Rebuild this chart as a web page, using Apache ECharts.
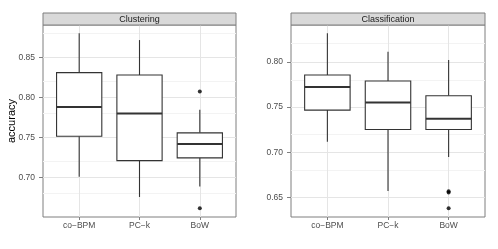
<!DOCTYPE html>
<html>
<head>
<meta charset="utf-8">
<script src="https://cdn.jsdelivr.net/npm/echarts@6.0.0/dist/echarts.min.js"></script>
<style>html,body{margin:0;padding:0;background:#fff}#c{width:498px;height:249px}</style>
</head>
<body>
<div id="c"></div>
<script>
const categories = ['co\u2212BPM', 'PC\u2212k', 'BoW'];
const panelTitles = ['Clustering', 'Classification'];
// [min, Q1, median, Q3, max]
const clustering = [
  [0.701, 0.7516, 0.788, 0.831, 0.880],
  [0.6758, 0.7212, 0.780, 0.828, 0.8716],
  [0.689, 0.7246, 0.742, 0.7558, 0.7846]
];
const clusteringOutliers = [[2, 0.8075], [2, 0.6616]];
const classification = [
  [0.7115, 0.7466, 0.772, 0.7853, 0.8314],
  [0.6573, 0.7252, 0.7551, 0.7787, 0.811],
  [0.6949, 0.7252, 0.737, 0.7624, 0.8019]
];
const classificationOutliers = [[2, 0.657], [2, 0.6555], [2, 0.6382]];
const clusteringTicks = [0.70, 0.75, 0.80, 0.85];
const clusteringMinor = [0.675, 0.725, 0.775, 0.825, 0.875];
const classificationTicks = [0.65, 0.70, 0.75, 0.80];
const classificationMinor = [0.675, 0.725, 0.775, 0.825];
const yRanges = [[0.6508, 0.8904], [0.6285, 0.8406]];

const FONT = 'Liberation Sans, Arial, Helvetica, sans-serif';
const panels = [
  {left: 43, top: 25, width: 193, height: 192},
  {left: 291, top: 25, width: 194, height: 192}
];

function renderBox(params, api) {
  const x = api.value(0);
  const pMin = api.coord([x, api.value(1)]);
  const pQ1 = api.coord([x, api.value(2)]);
  const pMed = api.coord([x, api.value(3)]);
  const pQ3 = api.coord([x, api.value(4)]);
  const pMax = api.coord([x, api.value(5)]);
  const hw = api.size([0.75, 0])[0] / 2;
  const st = {stroke: '#333333', lineWidth: 1.1, fill: null};
  return {type: 'group', children: [
    {type: 'line', shape: {x1: pMin[0], y1: pMin[1], x2: pQ1[0], y2: pQ1[1]}, style: st},
    {type: 'line', shape: {x1: pQ3[0], y1: pQ3[1], x2: pMax[0], y2: pMax[1]}, style: st},
    {type: 'rect', shape: {x: pQ3[0] - hw, y: pQ3[1], width: 2 * hw, height: pQ1[1] - pQ3[1]},
      style: {fill: '#ffffff', stroke: '#333333', lineWidth: 1.1}},
    {type: 'line', shape: {x1: pMed[0] - hw, y1: pMed[1], x2: pMed[0] + hw, y2: pMed[1]},
      style: {stroke: '#333333', lineWidth: 2}}
  ]};
}

function gridLines(major, minor) {
  const d = [];
  minor.forEach(v => d.push({yAxis: v, lineStyle: {color: '#f3f3f3', width: 1, type: 'solid'}}));
  major.forEach(v => d.push({yAxis: v, lineStyle: {color: '#e5e5e5', width: 1, type: 'solid'}}));
  [1, 2, 3].forEach(v => d.push({xAxis: v, lineStyle: {color: '#e5e5e5', width: 1, type: 'solid'}}));
  return d;
}

const chart = echarts.init(document.getElementById('c'), null, {renderer: 'canvas'});
const datasets = [clustering, classification];
const outliers = [clusteringOutliers, classificationOutliers];
const ticks = [clusteringTicks, classificationTicks];
const minors = [clusteringMinor, classificationMinor];

const option = {
  animation: false,
  backgroundColor: '#ffffff',
  textStyle: {fontFamily: FONT},
  grid: panels.map(p => Object.assign({show: true, backgroundColor: '#ffffff', borderColor: '#7f7f7f', borderWidth: 1, containLabel: false, outerBoundsMode: 'none'}, p)),
  xAxis: panels.map((p, i) => ({
    type: 'value', gridIndex: i, min: 0.4, max: 3.6,
    axisLine: {show: false},
    splitLine: {show: false},
    axisTick: {show: true, customValues: [1, 2, 3], length: 3, lineStyle: {color: '#7f7f7f'}},
    axisLabel: {customValues: [1, 2, 3], formatter: v => categories[Math.round(v) - 1], fontSize: 8.5, color: '#4d4d4d', margin: 4, fontFamily: FONT}
  })),
  yAxis: panels.map((p, i) => ({
    type: 'value', gridIndex: i, min: yRanges[i][0], max: yRanges[i][1],
    axisLine: {show: false},
    splitLine: {show: false},
    axisTick: {show: true, customValues: ticks[i], length: 4, lineStyle: {color: '#7f7f7f'}},
    axisLabel: {customValues: ticks[i], formatter: v => v.toFixed(2), fontSize: 8.5, color: '#4d4d4d', margin: 8, fontFamily: FONT},
    name: i === 0 ? 'accuracy' : '',
    nameLocation: 'middle', nameRotate: 90, nameGap: 26, nameMoveOverlap: false,
    nameTextStyle: {fontSize: 11, color: '#000000', fontFamily: FONT}
  })),
  series: [],
  graphic: []
};

datasets.forEach((ds, i) => {
  option.series.push({
    type: 'custom', xAxisIndex: i, yAxisIndex: i, z: 2,
    renderItem: renderBox,
    encode: {x: 0, y: [1, 2, 3, 4, 5]},
    data: ds.map((r, k) => [k + 1].concat(r)),
    markLine: {silent: true, z: 1, symbol: ['none', 'none'], label: {show: false}, animation: false, data: gridLines(ticks[i], minors[i])}
  });
  option.series.push({
    type: 'scatter', xAxisIndex: i, yAxisIndex: i, z: 3,
    symbol: 'circle', symbolSize: 4,
    itemStyle: {color: '#000000'},
    data: outliers[i].map(o => [o[0] + 1, o[1]])
  });
  const p = panels[i];
  option.graphic.push({
    type: 'rect', shape: {x: p.left, y: 13, width: p.width, height: 12},
    style: {fill: '#d9d9d9', stroke: '#7f7f7f', lineWidth: 1}, z: 10
  });
  option.graphic.push({
    type: 'text', x: p.left + p.width / 2, y: 19.5,
    style: {text: panelTitles[i], fill: '#1a1a1a', font: '9px ' + FONT, textAlign: 'center', textVerticalAlign: 'middle'}, z: 11
  });
});

chart.setOption(option);
</script>
</body>
</html>
